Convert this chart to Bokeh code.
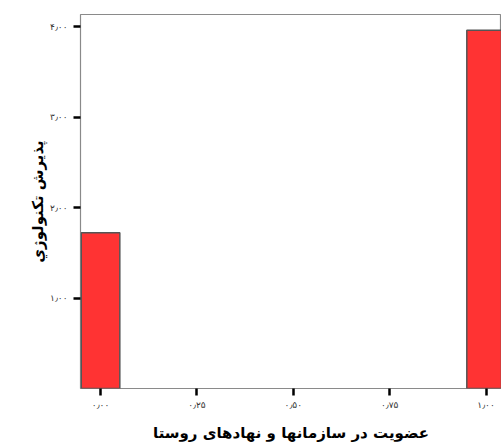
from bokeh.plotting import figure
from bokeh.models import Range1d, FixedTicker
from bokeh.embed import file_html
from bokeh.resources import INLINE

# Data
categories = [0.0, 1.0]
values = [1.72, 3.96]
x_ticks = [0.0, 0.25, 0.5, 0.75, 1.0]
x_tick_labels = ["۰٫۰۰", "۰٫۲۵", "۰٫۵۰", "۰٫۷۵", "۱٫۰۰"]
y_ticks = [1.0, 2.0, 3.0, 4.0]
y_tick_labels = ["۱٫۰۰", "۲٫۰۰", "۳٫۰۰", "۴٫۰۰"]
x_title = "عضویت در سازمانها و نهادهای روستا"
y_title = "پذیرش تکنولوژي"

p = figure(width=501, height=444, output_backend="svg", toolbar_location=None,
           x_range=Range1d(-0.052, 1.040), y_range=Range1d(0, 4.133),
           min_border_left=80, min_border_top=14, min_border_right=0, min_border_bottom=56)

p.vbar(x=categories, top=values, width=0.1, fill_color="#ff3333",
       line_color="#555555", line_width=1.5)

p.xgrid.visible = False
p.ygrid.visible = False
p.outline_line_color = "#8a8a8a"
p.outline_line_width = 1.2
p.background_fill_color = "white"
p.border_fill_color = "white"

p.xaxis.ticker = FixedTicker(ticks=x_ticks)
p.xaxis.major_label_overrides = dict(zip(x_ticks, x_tick_labels))
p.yaxis.ticker = FixedTicker(ticks=y_ticks)
p.yaxis.major_label_overrides = dict(zip(y_ticks, y_tick_labels))

for ax in (p.xaxis[0], p.yaxis[0]):
    ax.axis_line_color = None
    ax.major_tick_line_color = "black"
    ax.major_tick_line_width = 2.5
    ax.major_tick_out = 7
    ax.major_tick_in = 0
    ax.minor_tick_line_color = None
    ax.major_label_text_font = "DejaVu Sans"
    ax.major_label_text_font_size = "9px"
    ax.major_label_text_color = "#333333"
    ax.axis_label_text_font = "DejaVu Sans"
    ax.axis_label_text_font_style = "bold"
    ax.axis_label_text_color = "black"

p.xaxis.major_label_standoff = 4
p.yaxis.major_label_standoff = 6
p.xaxis.axis_label = x_title
p.yaxis.axis_label = y_title
p.xaxis.axis_label_text_font_size = "15px"
p.yaxis.axis_label_text_font_size = "15px"
p.xaxis.axis_label_standoff = 11
p.yaxis.axis_label_standoff = 0

open("out.html", "w").write(file_html(p, INLINE))
